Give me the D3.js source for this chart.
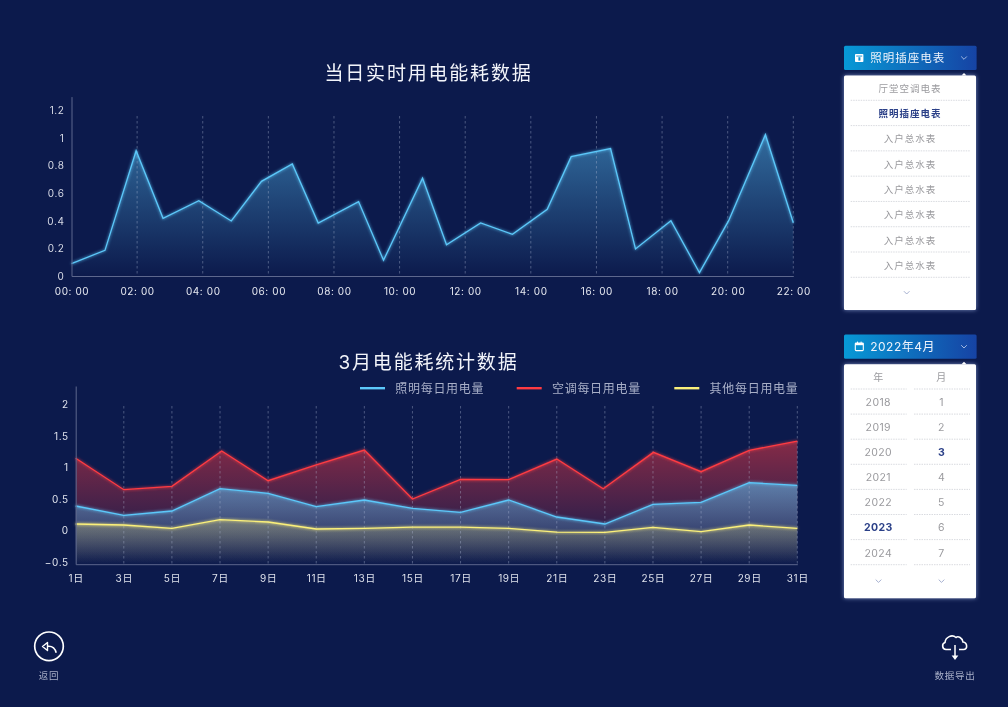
<!DOCTYPE html>
<html><head><meta charset="utf-8">
<script src="https://cdn.jsdelivr.net/npm/d3@7"></script>
<style>
html,body{margin:0;padding:0;background:#0c1a4c;overflow:hidden}
svg{display:block;opacity:.999}
text{font-family:"Inter","Noto Sans CJK SC",sans-serif}
</style></head><body>
<svg id="c" width="1008" height="707"></svg>
<script>
// ---- data ----
const hourTitle = "当日实时用电能耗数据";
const hours = [0,1.02,1.97,2.79,3.88,4.87,5.79,6.73,7.52,8.75,9.51,10.7,11.43,12.47,13.44,14.5,15.23,16.43,17.19,18.27,19.14,20.03,21.15,22];
const hourValues = [.09,.186,.908,.418,.546,.399,.686,.812,.384,.539,.114,.708,.227,.384,.302,.483,.865,.923,.196,.401,.024,.401,1.024,.386];
const hourTicks = [0,2,4,6,8,10,12,14,16,18,20,22];
const hourTickLabels = ["00: 00","02: 00","04: 00","06: 00","08: 00","10: 00","12: 00","14: 00","16: 00","18: 00","20: 00","22: 00"];
const hourYTicks = [0,.2,.4,.6,.8,1,1.2];

const monthTitle = "3月电能耗统计数据";
const days = [1,3,5,7,9,11,13,15,17,19,21,23,25,27,29,31];
const redDays = [1,3,5,7.07,9,11,13,15,17,19,21,22.93,25.02,27,29,31];
const lightingName = "照明每日用电量", acName = "空调每日用电量", otherName = "其他每日用电量";
const lighting = [.391,.244,.312,.665,.592,.38,.486,.354,.291,.486,.217,.106,.418,.449,.76,.718];
const aircon = [1.146,.649,.702,1.261,.791,1.04,1.277,.502,.813,.807,1.134,.665,1.24,.934,1.272,1.419];
const other = [.106,.09,.038,.174,.138,.027,.038,.058,.058,.038,-.021,-.025,.054,-.016,.09,.038];
const dayYTicks = [-.5,0,.5,1,1.5,2];

const meterButton = "照明插座电表";
const meters = ["厅堂空调电表","照明插座电表","入户总水表","入户总水表","入户总水表","入户总水表","入户总水表","入户总水表"];
const selectedMeter = 1;
const dateButton = "2022年4月";
const yearHeader = "年", monthHeader = "月";
const years = ["2018","2019","2020","2021","2022","2023","2024"];
const months = ["1","2","3","4","5","6","7"];
const selectedYear = "2023", selectedMonth = "3";
const backLabel = "返回", exportLabel = "数据导出";

// ---- styles ----
const BLUE="#5cc8fa", RED="#ff3b42", YELLOW="#fbf07a";
const svg=d3.select("#c"), defs=svg.append("defs");
svg.append("rect").attr("width",1008).attr("height",707).attr("fill","#0c1a4c");

function glow(id,std){
  const f=defs.append("filter").attr("id",id).attr("x","-10%").attr("y","-20%").attr("width","120%").attr("height","140%");
  f.append("feGaussianBlur").attr("in","SourceGraphic").attr("stdDeviation",std).attr("result","b");
  const m=f.append("feMerge");
  m.append("feMergeNode").attr("in","b");
  m.append("feMergeNode").attr("in","SourceGraphic");
}
glow("lineGlow",1.5);
const pf=defs.append("filter").attr("id","panelGlow").attr("x","-10%").attr("y","-10%").attr("width","120%").attr("height","120%");
pf.append("feDropShadow").attr("dx",0).attr("dy",0).attr("stdDeviation",2).attr("flood-color","#a9bcf0").attr("flood-opacity",.7);
function vGrad(id,y1,y2,color,op){
  const g=defs.append("linearGradient").attr("id",id).attr("gradientUnits","userSpaceOnUse")
    .attr("x1",0).attr("x2",0).attr("y1",y1).attr("y2",y2);
  g.append("stop").attr("offset",0).attr("stop-color",color).attr("stop-opacity",op);
  g.append("stop").attr("offset",1).attr("stop-color",color).attr("stop-opacity",0);
}
const btn=defs.append("linearGradient").attr("id","btn").attr("x1",0).attr("x2",1).attr("y1",0).attr("y2",0);
btn.append("stop").attr("offset",0).attr("stop-color","#0799d6");
btn.append("stop").attr("offset",1).attr("stop-color","#1643a4");

function styleAxis(g,color){
  g.selectAll(".domain").attr("stroke","#5d678d").attr("stroke-width",1);
  g.selectAll(".tick line").remove();
  g.selectAll("text").attr("fill",color).style("font-size","10px").style("letter-spacing","0.6px");
}
function T(sel,x,y,s,o={}){
  return sel.append("text").attr("x",x).attr("y",y).attr("text-anchor",o.a||"middle").attr("dominant-baseline","central")
    .attr("fill",o.c||"#fff").style("font-size",(o.s||10)+"px").style("font-weight",o.w||400)
    .style("letter-spacing",(o.ls||0)+"px").text(s);
}

// ---- top chart ----
{
  const x=d3.scaleLinear().domain([0,22]).range([71.5,793.3]);
  const y=d3.scaleLinear().domain([0,1.3]).range([276,96.6]);
  const g=svg.append("g");
  T(g,428.5,73,hourTitle,{s:19,ls:1.8,c:"#f2f4fa"});
  vGrad("a1",y(d3.max(hourValues)),y(0),BLUE,.47);
  const pts=hours.map((h,i)=>[h,hourValues[i]]);
  g.append("path").attr("d",d3.area().x(d=>x(d[0])).y0(y(0)).y1(d=>y(d[1]))(pts)).attr("fill","url(#a1)");
  g.selectAll("line.grid").data(hourTicks.slice(1)).join("line").attr("class","grid")
    .attr("x1",x).attr("x2",x).attr("y1",116).attr("y2",276)
    .attr("stroke","#b4bcd8").attr("stroke-opacity",.48).attr("stroke-width",.8).attr("stroke-dasharray","2.5 2.5");
  g.append("path").attr("d",d3.line().x(d=>x(d[0])).y(d=>y(d[1]))(pts)).attr("fill","none")
    .attr("stroke",BLUE).attr("stroke-width",1.3).attr("filter","url(#lineGlow)");
  const ax=g.append("g").attr("transform","translate(0,276)").call(d3.axisBottom(x).tickValues(hourTicks).tickSize(0).tickPadding(12).tickFormat((d,i)=>hourTickLabels[i]));
  styleAxis(ax,"#e6e8f0");
  const ay=g.append("g").attr("transform","translate(71.5,0)").call(d3.axisLeft(y).tickValues(hourYTicks).tickSize(0).tickPadding(7).tickFormat(d=>String(+d.toFixed(1))));
  styleAxis(ay,"#d8dbe6");
}

// ---- bottom chart ----
{
  const x=d3.scaleLinear().domain([1,31]).range([75.7,797.3]);
  const y=d3.scaleLinear().domain([-.53,2.29]).range([564.2,386]);
  const base=y.range()[0];
  const g=svg.append("g");
  T(g,428.5,362,monthTitle,{s:19,ls:1.8,c:"#f2f4fa"});
  const series=[
    {id:"r",c:RED,v:aircon,d:redDays,op:.5,name:acName},
    {id:"b",c:BLUE,v:lighting,d:days,op:.55,name:lightingName},
    {id:"y",c:YELLOW,v:other,d:days,op:.28,name:otherName}];
  series.forEach(s=>{
    vGrad("g"+s.id,y(d3.max(s.v)),base,s.c,s.op);
    s.pts=s.d.map((d,i)=>[d,s.v[i]]);
    g.append("path").attr("d",d3.area().x(d=>x(d[0])).y0(base).y1(d=>y(d[1]))(s.pts)).attr("fill",`url(#g${s.id})`);
  });
  g.selectAll("line.grid").data(days.slice(1)).join("line").attr("class","grid")
    .attr("x1",x).attr("x2",x).attr("y1",406).attr("y2",base)
    .attr("stroke","#b4bcd8").attr("stroke-opacity",.48).attr("stroke-width",.8).attr("stroke-dasharray","2.5 2.5");
  series.forEach(s=>{
    g.append("path").attr("d",d3.line().x(d=>x(d[0])).y(d=>y(d[1]))(s.pts)).attr("fill","none")
      .attr("stroke",s.c).attr("stroke-width",1.3).attr("filter","url(#lineGlow)");
  });
  const ax=g.append("g").attr("transform",`translate(0,${base})`).call(d3.axisBottom(x).tickValues(days).tickSize(0).tickPadding(11).tickFormat(d=>d+"日"));
  styleAxis(ax,"#dfe2ec");
  const ay=g.append("g").attr("transform","translate(75.7,0)").call(d3.axisLeft(y).tickValues(dayYTicks).tickSize(0).tickPadding(7).tickFormat(d=>d<0?"−"+Math.abs(d):String(d)));
  styleAxis(ay,"#dfe2ec");
  // legend
  [[360,series[1]],[516.7,series[0]],[674.3,series[2]]].forEach(([lx,s])=>{
    g.append("rect").attr("x",lx).attr("y",387).attr("width",25).attr("height",2.4).attr("fill",s.c);
    T(g,lx+35.3,388.5,s.name,{a:"start",s:12,ls:.7,c:"#a9b0c8"});
  });
}

// ---- right panels ----
function chevron(g,cx,cy,c,w){
  g.append("path").attr("d",`M${cx-w},${cy-w/2}L${cx},${cy+w/2}L${cx+w},${cy-w/2}`).attr("fill","none").attr("stroke",c).attr("stroke-width",.8);
}
function divider(g,x1,x2,yy){
  g.append("line").attr("x1",x1).attr("x2",x2).attr("y1",yy).attr("y2",yy).attr("stroke","#cfd2d8").attr("stroke-width",.8).attr("stroke-dasharray","1.5 1");
}
const GRAY="#9a9a9e", SEL="#2b4088";
function dropdown(y0,h,py,ph){
  const g=svg.append("g");
  g.append("rect").attr("x",844).attr("y",y0).attr("width",132.6).attr("height",h).attr("rx",1.5).attr("fill","url(#btn)");
  chevron(g,964,y0+12.2,"#c8d4f0",2.8);
  g.append("rect").attr("x",844).attr("y",py).attr("width",132).attr("height",ph).attr("rx",1.5).attr("fill","#fff").attr("filter","url(#panelGlow)");
  g.append("path").attr("d",`M961.5,${py}L964,${py-2.5}L966.5,${py}Z`).attr("fill","#fff");
  return g;
}
{
  const g=dropdown(45.7,24.3,75.6,234.4);
  g.append("rect").attr("x",855).attr("y",54).attr("width",8.4).attr("height",8).attr("rx",.8).attr("fill","#fff");
  g.append("rect").attr("x",856.2).attr("y",55.6).attr("width",6).attr("height",.9).attr("fill","#0b8fd0");
  g.append("rect").attr("x",858.4).attr("y",57.2).attr("width",2).attr("height",3.4).attr("fill","#0b8fd0");
  T(g,870.2,58,meterButton,{a:"start",s:11.5,ls:1,c:"#eef3fb"});
  const rowY=d3.scaleLinear().domain([0,7]).range([88.2,265.6]);
  const lineY=d3.scaleLinear().domain([0,7]).range([100.3,277.3]);
  meters.forEach((m,i)=>{
    T(g,910,rowY(i),m,{s:9.5,ls:1,c:i===selectedMeter?SEL:GRAY,w:i===selectedMeter?700:400});
    divider(g,850.7,970,lineY(i));
  });
  chevron(g,906.7,292.6,"#8f9cc4",2.8);
}
{
  const g=dropdown(334.4,24.3,364.3,234);
  g.append("rect").attr("x",855.3).attr("y",343).attr("width",8).attr("height",7.6).attr("rx",.8).attr("fill","none").attr("stroke","#fff").attr("stroke-width",1.1);
  g.append("rect").attr("x",855.3).attr("y",343).attr("width",8).attr("height",2.2).attr("fill","#fff");
  g.append("rect").attr("x",857).attr("y",341.6).attr("width",1).attr("height",1.8).attr("fill","#fff");
  g.append("rect").attr("x",860.6).attr("y",341.6).attr("width",1).attr("height",1.8).attr("fill","#fff");
  T(g,870.2,346.5,dateButton,{a:"start",s:12,ls:.5,c:"#eef3fb"});
  const rowY=d3.scaleLinear().domain([0,6]).range([402,553]);
  const lineY=d3.scaleLinear().domain([0,7]).range([389,564.7]);
  T(g,878.3,377,yearHeader,{s:10,c:GRAY});
  T(g,941.3,377,monthHeader,{s:10,c:GRAY});
  d3.range(8).forEach(i=>{ divider(g,850.7,906.7,lineY(i)); divider(g,914,970,lineY(i)); });
  years.forEach((v,i)=>{const s=v===selectedYear; T(g,878.3,rowY(i),v,{s:10.5,ls:.4,c:s?SEL:GRAY,w:s?700:400});});
  months.forEach((v,i)=>{const s=v===selectedMonth; T(g,941.3,rowY(i),v,{s:10.5,c:s?SEL:GRAY,w:s?700:400});});
  chevron(g,878.5,581,"#8f9cc4",2.8);
  chevron(g,941.5,581,"#8f9cc4",2.8);
}

// ---- bottom icons ----
{
  const g=svg.append("g");
  g.append("circle").attr("cx",49).attr("cy",646.3).attr("r",14.3).attr("fill","none").attr("stroke","#fff").attr("stroke-width",1.7);
  g.append("path").attr("d","M47.5,642.5L42.5,646.5L47.5,650.5Z").attr("fill","none").attr("stroke","#fff").attr("stroke-width",1.4).attr("stroke-linejoin","round");
  g.append("path").attr("d","M47.5,646.3C52,645.8 55,648 56.2,652.8").attr("fill","none").attr("stroke","#fff").attr("stroke-width",1.6);
  T(g,49,675,backLabel,{s:9.5,ls:.8,c:"#a9b0c8"});
  g.append("path").attr("d","M951,649.5H946C942,649.5 941.5,643.5 945,642.5C945.5,637 952,634 956,637.5C958,635.5 962.5,638 963,642C967.5,642.5 968,649.5 963.5,649.5H959")
    .attr("fill","none").attr("stroke","#fff").attr("stroke-width",1.6);
  g.append("path").attr("d","M955,645V656").attr("stroke","#fff").attr("stroke-width",1.5);
  g.append("path").attr("d","M951.6,655.5L955,660L958.4,655.5Z").attr("fill","#fff");
  T(g,955,675,exportLabel,{s:9.5,ls:.8,c:"#a9b0c8"});
}
</script>
</body></html>
